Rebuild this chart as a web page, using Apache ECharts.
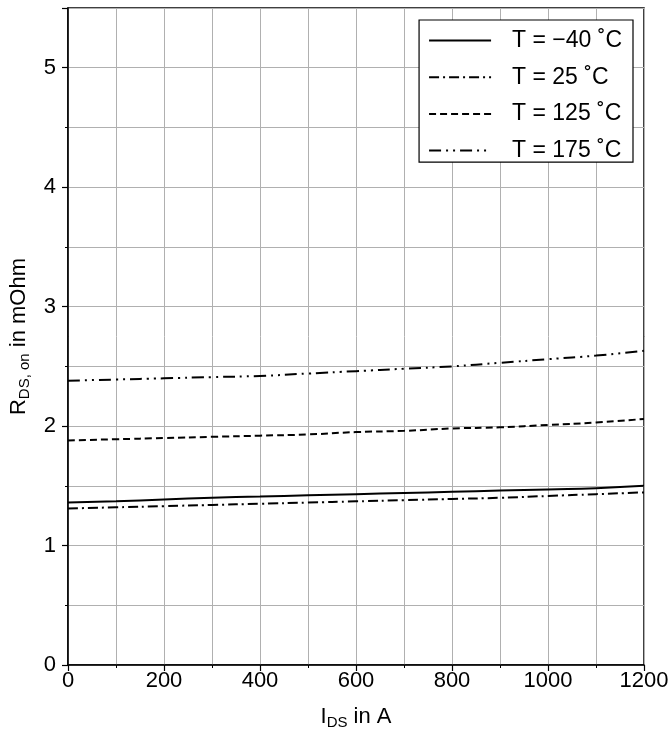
<!DOCTYPE html>
<html>
<head>
<meta charset="utf-8">
<script src="https://cdn.jsdelivr.net/npm/echarts@6/dist/echarts.min.js"></script>
<style>
  html, body { margin: 0; padding: 0; background: #fff; }
  #container { width: 671px; height: 733px; }
</style>
</head>
<body>
<div id="container"></div>
<script>
const current = [0, 100, 200, 300, 400, 500, 600, 700, 800, 900, 1000, 1100, 1200]
const tMinus40 = [1.36, 1.37, 1.385, 1.40, 1.41, 1.42, 1.43, 1.44, 1.45, 1.46, 1.47, 1.48, 1.50]
const t25 = [1.31, 1.32, 1.33, 1.34, 1.35, 1.36, 1.37, 1.38, 1.39, 1.40, 1.415, 1.43, 1.445]
const t125 = [1.88, 1.89, 1.90, 1.91, 1.92, 1.93, 1.95, 1.96, 1.98, 1.99, 2.01, 2.03, 2.06]
const t175 = [2.38, 2.39, 2.40, 2.41, 2.42, 2.44, 2.46, 2.48, 2.50, 2.53, 2.56, 2.59, 2.63]
const names = ['T = \u221240 \u02daC', 'T = 25 \u02daC', 'T = 125 \u02daC', 'T = 175 \u02daC']

const pairs = (ys) => current.map((x, i) => [x, ys[i]])

const myChart = echarts.init(document.getElementById('container'))
const font = 'Liberation Sans, Arial, sans-serif'

const mkSeries = (name, ys, type) => ({
    name: name,
    type: 'line',
    data: pairs(ys),
    symbol: 'none',
    smooth: true,
    lineStyle: { color: '#000', width: 2, type: type },
    itemStyle: { color: '#000' }
})

const nameRich = {
    a: { fontFamily: font, fontSize: 22, color: '#000' },
    s: { fontFamily: font, fontSize: 15, color: '#000', verticalAlign: 'bottom', padding: [12, 0, 0, 0] }
}

const option = {
    backgroundColor: '#fff',
    animation: false,
    textStyle: { fontFamily: font },
    grid: {
        left: 68, right: 27, top: 8, bottom: 68,
        outerBoundsMode: 'none',
        containLabel: false,
        show: true, borderColor: '#000', borderWidth: 1.5
    },
    legend: {
        orient: 'vertical',
        right: 38,
        top: 20,
        padding: [9, 11, 0, 9],
        itemWidth: 62,
        itemHeight: 22,
        itemGap: 13.7,
        borderColor: '#000',
        borderWidth: 1.2,
        backgroundColor: '#fff',
        itemStyle: { opacity: 0 },
        textStyle: { fontFamily: font, fontSize: 23, color: '#000', padding: [0, 0, 0, 16] },
        data: names
    },
    xAxis: {
        type: 'value',
        min: 0, max: 1200, interval: 200,
        name: '{a|I}{s|DS}{a| in A}',
        nameLocation: 'middle',
        nameGap: 38,
        nameTextStyle: { rich: nameRich },
        axisLine: { show: true, lineStyle: { color: '#000', width: 1.5 } },
        axisTick: { show: true, length: 6, lineStyle: { color: '#000', width: 1.2 } },
        minorTick: { show: true, splitNumber: 2, length: 3, lineStyle: { color: '#000' } },
        axisLabel: { fontFamily: font, fontSize: 22, color: '#000', margin: 5, formatter: (v) => String(v) },
        splitLine: { show: true, lineStyle: { color: '#b0b0b0', width: 1 } },
        minorSplitLine: { show: true, lineStyle: { color: '#b0b0b0', width: 1 } }
    },
    yAxis: {
        type: 'value',
        min: 0, max: 5.5, interval: 1,
        name: '{a|R}{s|DS, on}{a| in mOhm}',
        nameLocation: 'middle',
        nameGap: 36,
        nameTextStyle: { rich: nameRich },
        axisLine: { show: true, lineStyle: { color: '#000', width: 1.5 } },
        axisTick: { show: true, length: 6, lineStyle: { color: '#000', width: 1.2 } },
        minorTick: { show: true, splitNumber: 2, length: 3, lineStyle: { color: '#000' } },
        axisLabel: {
            fontFamily: font, fontSize: 22, color: '#000', margin: 12,
            formatter: (v) => (Number.isInteger(v) ? String(v) : '')
        },
        splitLine: { show: true, lineStyle: { color: '#b0b0b0', width: 1 } },
        minorSplitLine: { show: true, lineStyle: { color: '#b0b0b0', width: 1 } }
    },
    series: [
        mkSeries(names[0], tMinus40, 'solid'),
        mkSeries(names[1], t25, [10, 4, 2, 4]),
        mkSeries(names[2], t125, [7, 4]),
        mkSeries(names[3], t175, [12, 5, 2, 5, 2, 5])
    ]
}

myChart.setOption(option)
</script>
</body>
</html>
